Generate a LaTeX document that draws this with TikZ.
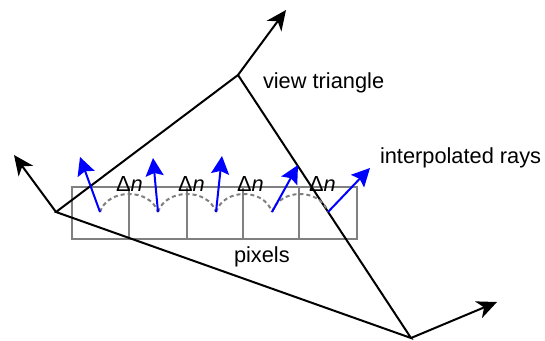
\documentclass[tikz,border=0pt]{standalone}
\usepackage{fontspec}
\setmainfont{Liberation Sans}
\usetikzlibrary{arrows.meta}
\definecolor{ViewInk}{HTML}{000000}
\definecolor{RayBlue}{HTML}{0000FF}
\definecolor{PixGray}{HTML}{808080}
\definecolor{ArcGray}{HTML}{7F7F7F}

\begin{document}
\begin{tikzpicture}[x=1pt,y=-1pt,line width=2pt,
    >={Stealth[length=20pt,width=18pt,inset=6pt]},
    lbl/.style={inner sep=0pt,anchor=base west,font=\fontsize{21.8}{26}\selectfont},
    ray/.style={->,RayBlue,>={Stealth[length=18pt,width=18pt,inset=3pt]}}]
  \useasboundingbox (0,0) rectangle (545,340);
  % pixel row
  \draw[PixGray] (72,187) rectangle (357,239);
  \foreach \x in {129,187,243,299}
    \draw[PixGray] (\x,187) -- (\x,239);
  % view triangle and its vertex normals
  \coordinate (A) at (56,212);
  \coordinate (B) at (238,75);
  \coordinate (C) at (411,338);
  \coordinate (nA) at (14,155);
  \coordinate (nB) at (286,10);
  \coordinate (nC) at (497,302);
  \draw[ViewInk,line join=miter] (A) -- (B) -- (C) -- cycle;
  \draw[->,ViewInk] (A) -- (nA);
  \draw[->,ViewInk] (B) -- (nB);
  \draw[->,ViewInk] (C) -- (nC);
  % interpolated rays
  \foreach \i/\sx/\tx/\ty in {1/100/80/157,2/158/153/158,3/216/222/156,4/272/298/165,5/328/370/168}{
    \coordinate (s\i) at (\sx,212);
    \coordinate (t\i) at (\tx,\ty);
  }
  \foreach \i [evaluate=\i as \j using int(\i+1)] in {1,...,4}
    \draw[ArcGray,dash pattern=on 4pt off 3pt] (s\i) .. controls +(8,-24) and +(-8,-24) .. (s\j);
  \foreach \i in {1,...,5}
    \draw[ray] (s\i) -- (t\i);
  \foreach \i/\x in {1/115,2/177,3/236,4/308}
    \node[lbl] (dn\i) at (\x,191) {Δ\textit{n}};
  % labels
  \node[lbl] (view) at (262,88) {view triangle};
  \node[lbl] (interp) at (379,163) {interpolated rays};
  \node[lbl] (pix) at (233,262) {pixels};
\end{tikzpicture}
\end{document}
